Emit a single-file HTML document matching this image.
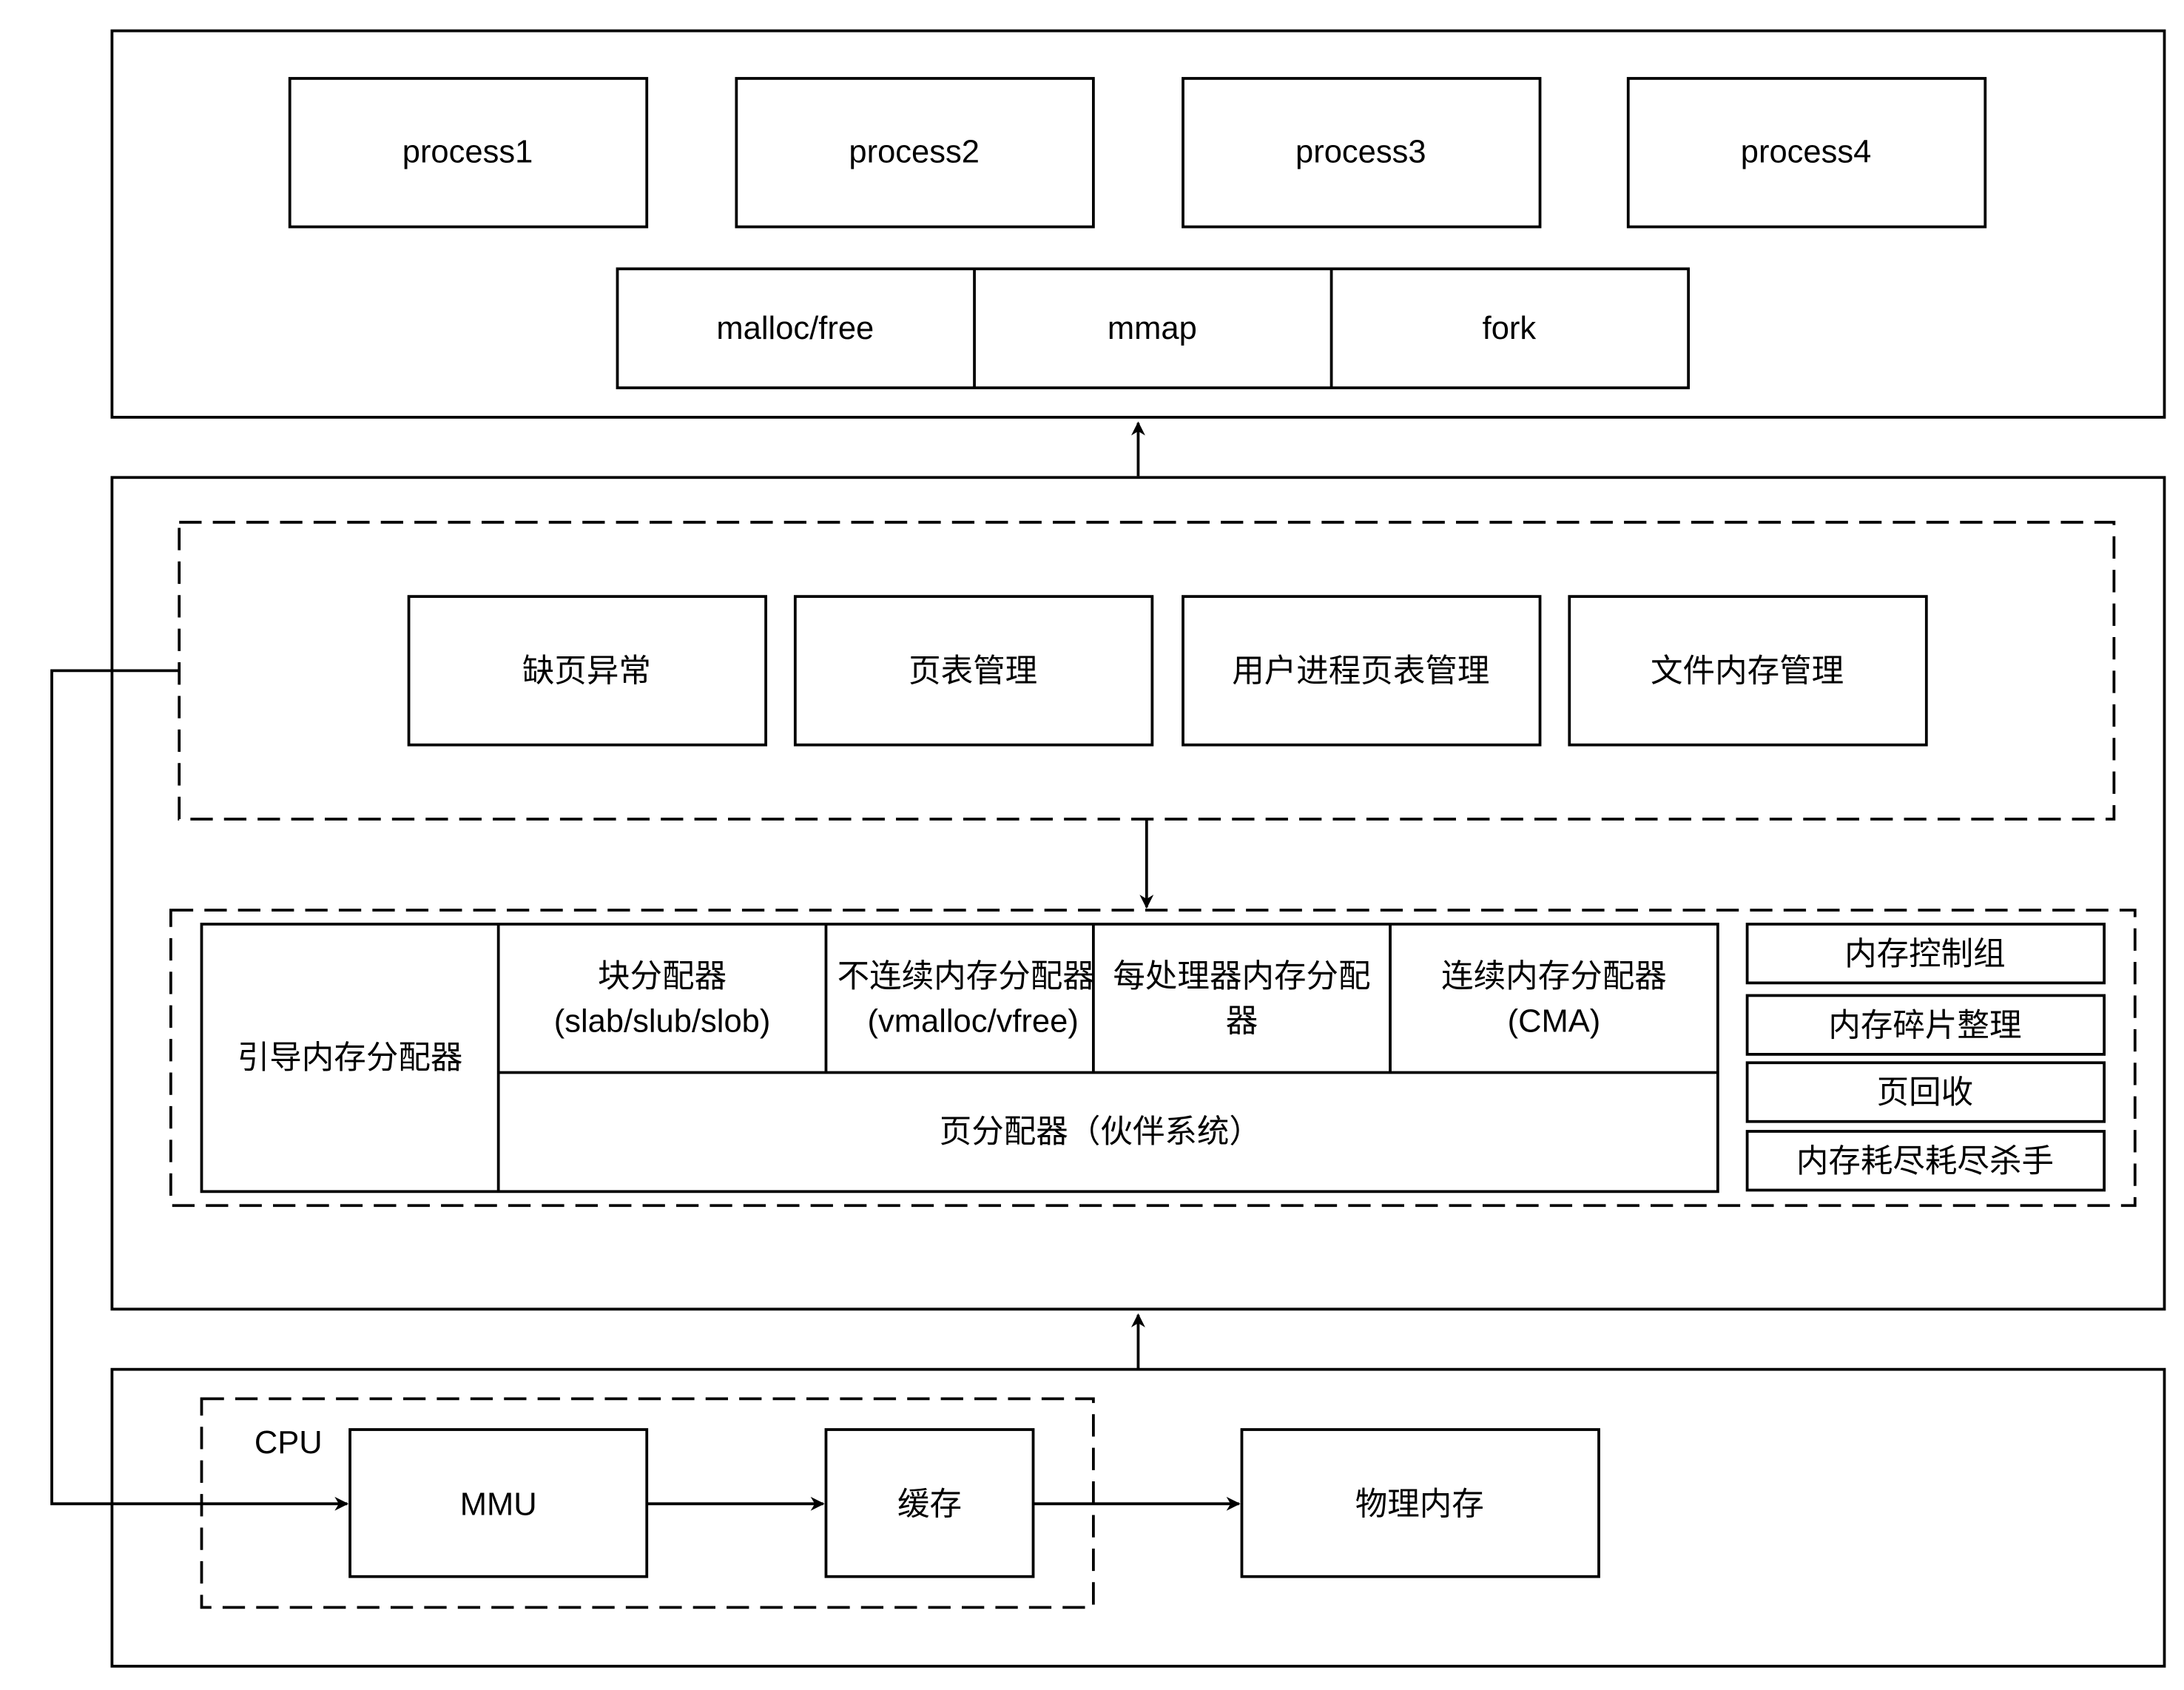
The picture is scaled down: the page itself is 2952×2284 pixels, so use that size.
<!DOCTYPE html>
<html><head><meta charset="utf-8">
<style>html,body{margin:0;padding:0;background:#fff}svg{display:block}</style>
</head><body>
<svg width="2952" height="2284" viewBox="0 0 1560 1207" preserveAspectRatio="none" xmlns="http://www.w3.org/2000/svg">
<defs><marker id="a" markerWidth="10" markerHeight="10" refX="9" refY="5" orient="auto" markerUnits="userSpaceOnUse"><path d="M0,0 L10,5 L0,10 L3,5 Z" fill="#000"/></marker></defs>
<rect width="1560" height="1207" fill="#fff"/>
<g fill="none" stroke="#000" stroke-width="2">
<rect x="80" y="22" width="1466" height="276"/>
<rect x="207" y="56" width="255" height="106"/>
<rect x="526" y="56" width="255" height="106"/>
<rect x="845" y="56" width="255" height="106"/>
<rect x="1163" y="56" width="255" height="106"/>
<rect x="441" y="192" width="765" height="85"/>
<line x1="696" y1="192" x2="696" y2="277"/><line x1="951" y1="192" x2="951" y2="277"/>
<line x1="813" y1="340" x2="813" y2="302" marker-end="url(#a)"/>
<rect x="80" y="341" width="1466" height="594"/>
<rect x="128" y="373" width="1382" height="212" stroke-dasharray="16,8"/>
<rect x="292" y="426" width="255" height="106"/>
<rect x="568" y="426" width="255" height="106"/>
<rect x="845" y="426" width="255" height="106"/>
<rect x="1121" y="426" width="255" height="106"/>
<line x1="819" y1="585" x2="819" y2="648" marker-end="url(#a)"/>
<rect x="122" y="650" width="1403" height="211" stroke-dasharray="16,8"/>
<rect x="144" y="660" width="1083" height="191"/>
<line x1="356" y1="660" x2="356" y2="851"/>
<line x1="356" y1="766" x2="1227" y2="766"/>
<line x1="590" y1="660" x2="590" y2="766"/><line x1="781" y1="660" x2="781" y2="766"/><line x1="993" y1="660" x2="993" y2="766"/>
<rect x="1248" y="660" width="255" height="42"/>
<rect x="1248" y="711" width="255" height="42"/>
<rect x="1248" y="759" width="255" height="42"/>
<rect x="1248" y="808" width="255" height="42"/>
<line x1="813" y1="978" x2="813" y2="939" marker-end="url(#a)"/>
<rect x="80" y="978" width="1466" height="212"/>
<rect x="144" y="999" width="637" height="149" stroke-dasharray="16,8"/>
<rect x="250" y="1021" width="212" height="105"/>
<rect x="590" y="1021" width="148" height="105"/>
<rect x="887" y="1021" width="255" height="105"/>
<line x1="462" y1="1074" x2="588" y2="1074" marker-end="url(#a)"/>
<line x1="738" y1="1074" x2="885" y2="1074" marker-end="url(#a)"/>
<polyline points="128,479 37,479 37,1074 248,1074" marker-end="url(#a)"/>
</g>
<g font-family="Liberation Sans, Noto Sans CJK SC, sans-serif" font-size="23" text-anchor="middle" fill="#000">
<text x="334" y="116">process1</text><text x="653" y="116">process2</text><text x="972" y="116">process3</text><text x="1290" y="116">process4</text>
<text x="568" y="242">malloc/free</text><text x="823" y="242">mmap</text><text x="1078" y="242">fork</text>
<text x="419" y="487">缺页异常</text><text x="695" y="487">页表管理</text><text x="972" y="487">用户进程页表管理</text><text x="1248" y="487">文件内存管理</text>
<text x="250" y="763">引导内存分配器</text>
<text x="473" y="705">块分配器</text><text x="473" y="737">(slab/slub/slob)</text>
<text x="690" y="705">不连续内存分配器</text><text x="695" y="737">(vmalloc/vfree)</text>
<text x="887" y="705">每处理器内存分配</text><text x="887" y="737">器</text>
<text x="1110" y="705">连续内存分配器</text><text x="1110" y="737">(CMA)</text>
<text x="786" y="816">页分配器（伙伴系统）</text>
<text x="1375" y="689">内存控制组</text><text x="1375" y="740">内存碎片整理</text><text x="1375" y="788">页回收</text><text x="1375" y="837">内存耗尽耗尽杀手</text>
<text x="206" y="1038">CPU</text>
<text x="356" y="1082">MMU</text><text x="664" y="1082">缓存</text><text x="1014" y="1082">物理内存</text>
</g>
</svg>
</body></html>
